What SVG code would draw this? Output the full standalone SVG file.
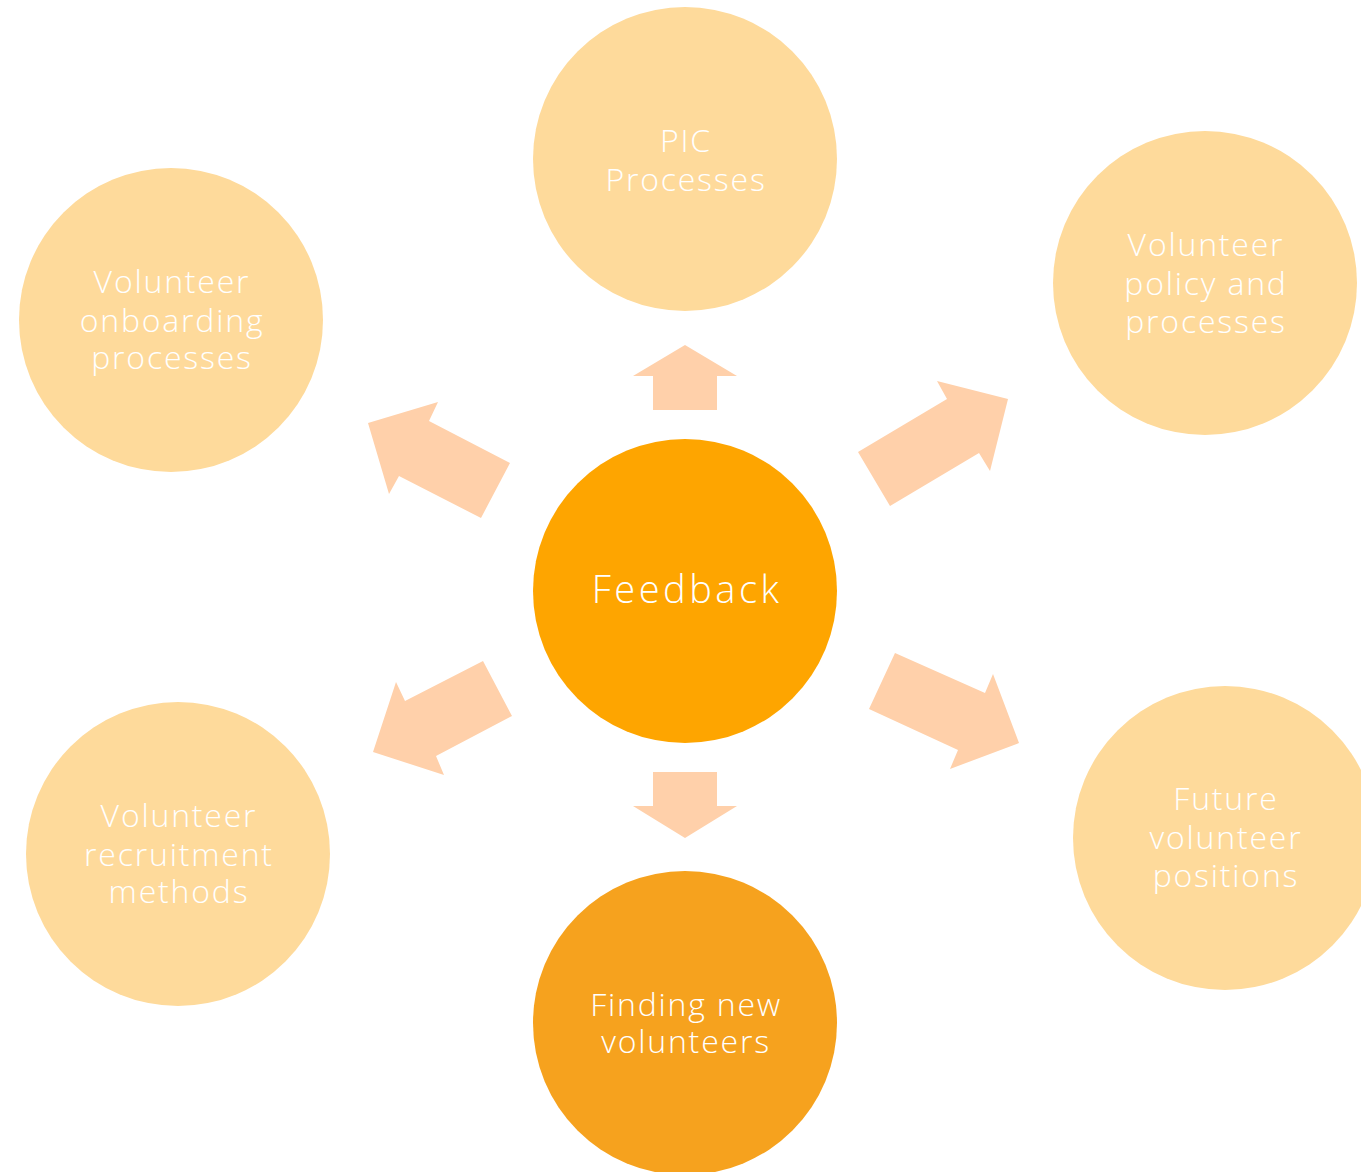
<svg xmlns="http://www.w3.org/2000/svg" width="1361" height="1172" viewBox="0 0 1361 1172">
<style>
.light{fill:#FEDA9B}
.arrow{fill:#FFD0AA}
text{font-family:"Open Sans","DejaVu Sans",sans-serif;font-weight:300;fill:#FFFFFF;text-anchor:middle;font-size:32px;letter-spacing:1.8px}
.big{font-size:38px;letter-spacing:3.5px}
</style>
<rect width="1361" height="1172" fill="#FFFFFF"/>
<g id="connectors">
<polygon class="arrow" points="685,345 737,376 717,376 717,410 653,410 653,376 633,376"/>
<polygon class="arrow" points="653,772 717,772 717,806 737,806 685,838 633,806 653,806"/>
<polygon class="arrow" points="858,452 947,399 937,381 1008,399 990,471 979,453 890,506"/>
<polygon class="arrow" points="368,423 438,402 429,421 510,463 481,518 399,476 389,494"/>
<polygon class="arrow" points="483,661 512,716 436,756 444,775 373,752 396,682 405,701"/>
<polygon class="arrow" points="895,653 985,693 993,674 1019,743 950,769 958,750 869,709"/>
</g>
<g id="feedback">
<circle cx="685" cy="591" r="152" fill="#FEA500"/>
<text class="big" x="687" y="603">Feedback</text>
</g>
<g id="pic">
<circle class="light" cx="685" cy="159" r="152"/>
<text x="686" y="152">PIC</text>
<text x="686" y="191">Processes</text>
</g>
<g id="policy">
<circle class="light" cx="1205" cy="283" r="152"/>
<text x="1206" y="256">Volunteer</text>
<text x="1206" y="295">policy and</text>
<text x="1206" y="333">processes</text>
</g>
<g id="onboarding">
<circle class="light" cx="171" cy="320" r="152"/>
<text x="172" y="293">Volunteer</text>
<text x="172" y="332">onboarding</text>
<text x="172" y="369">processes</text>
</g>
<g id="recruitment">
<circle class="light" cx="178" cy="854" r="152"/>
<text x="179" y="827">Volunteer</text>
<text x="179" y="866">recruitment</text>
<text x="179" y="903">methods</text>
</g>
<g id="future">
<circle class="light" cx="1225" cy="838" r="152"/>
<text x="1226" y="810">Future</text>
<text x="1226" y="849">volunteer</text>
<text x="1226" y="887">positions</text>
</g>
<g id="finding">
<circle cx="685" cy="1023" r="152" fill="#F6A21E"/>
<text x="686" y="1016">Finding new</text>
<text x="686" y="1053">volunteers</text>
</g>
</svg>
